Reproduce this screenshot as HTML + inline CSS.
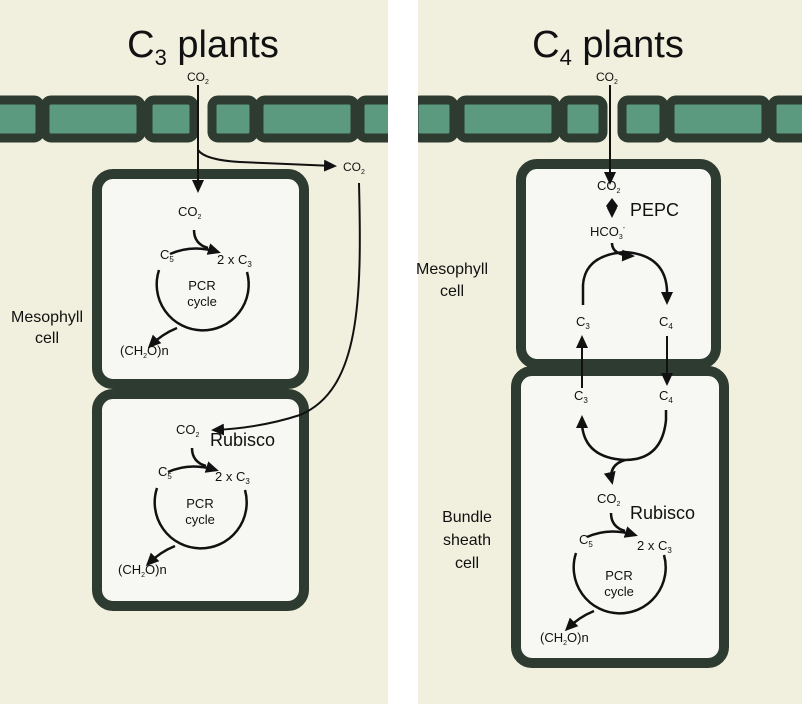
<!DOCTYPE html>
<html><head><style>
html,body{margin:0;padding:0;background:#fff;}
svg{display:block;font-family:"Liberation Sans",sans-serif;}
</style></head><body>
<svg width="802" height="704" viewBox="0 0 802 704" xmlns="http://www.w3.org/2000/svg">
<defs>
<marker id="ah2" markerWidth="14" markerHeight="14" refX="10" refY="7" orient="auto" markerUnits="userSpaceOnUse"><path d="M0,1 L13,7 L0,13 Z" fill="#111"/></marker>
<g id="pcr">
<path d="M-43,-22 A46,46 0 1 0 45,-20" fill="none" stroke="#111" stroke-width="2.5"/>
<path d="M-32,-38 Q-10,-48 16,-40" fill="none" stroke="#111" stroke-width="2.5" marker-end="url(#ah2)"/>
<path d="M-8,-62 Q-8,-48 6,-44" fill="none" stroke="#111" stroke-width="2.5"/>
<path d="M-25,36 Q-40,42 -52,54" fill="none" stroke="#111" stroke-width="2.5" marker-end="url(#ah2)"/>
</g>
</defs>
<rect width="802" height="704" fill="#fff"/>
<rect x="0" y="0" width="388" height="704" fill="#f1f0de"/>
<rect x="418" y="0" width="384" height="704" fill="#f1f0de"/>
<g stroke="#2e3b30" stroke-width="9" fill="#5c9a80">
<rect x="-6" y="100" width="46" height="38" rx="6"/>
<rect x="45" y="100" width="96" height="38" rx="6"/>
<rect x="148" y="100" width="46" height="38" rx="6"/>
<rect x="212" y="100" width="42" height="38" rx="6"/>
<rect x="259" y="100" width="96" height="38" rx="6"/>
<rect x="360" y="100" width="34" height="38" rx="6"/>
<rect x="414" y="100" width="40" height="38" rx="6"/>
<rect x="460" y="100" width="96" height="38" rx="6"/>
<rect x="563" y="100" width="40" height="38" rx="6"/>
<rect x="622" y="100" width="42" height="38" rx="6"/>
<rect x="670" y="100" width="96" height="38" rx="6"/>
<rect x="772" y="100" width="40" height="38" rx="6"/>
</g>
<rect x="388" y="90" width="30" height="56" fill="#fff"/>
<g stroke="#2e3b30" stroke-width="10" fill="#f7f7f3">
<rect x="97" y="174" width="207" height="210" rx="16"/>
<rect x="97" y="394" width="207" height="212" rx="16"/>
<rect x="521" y="164" width="195" height="200" rx="16"/>
<rect x="516" y="371" width="208" height="292" rx="16"/>
</g>
<text x="203" y="57" font-size="38" text-anchor="middle" fill="#111">C<tspan font-size="22" dy="8">3</tspan><tspan dy="-8"> plants</tspan></text>
<text x="608" y="57" font-size="38" text-anchor="middle" fill="#111">C<tspan font-size="22" dy="8">4</tspan><tspan dy="-8"> plants</tspan></text>
<g font-size="12" fill="#111">
<text x="187" y="81">CO<tspan font-size="7" dy="3">2</tspan></text>
<text x="596" y="81">CO<tspan font-size="7" dy="3">2</tspan></text>
</g>
<line x1="198" y1="85" x2="198" y2="190" stroke="#111" stroke-width="2" marker-end="url(#ah2)"/>
<path d="M198,150 Q205,160 240,162 L334,166" fill="none" stroke="#111" stroke-width="2" marker-end="url(#ah2)"/>
<text x="343" y="171" font-size="12" fill="#111">CO<tspan font-size="7" dy="3">2</tspan></text>
<path d="M359,183 C362,300 360,390 300,415 Q260,428 214,430" fill="none" stroke="#111" stroke-width="2" marker-end="url(#ah2)"/>
<use href="#pcr" x="202" y="292"/>
<g font-size="13" fill="#111">
<text x="178" y="216">CO<tspan font-size="7" dy="3">2</tspan></text>
<text x="160" y="259">C<tspan font-size="8" dy="3">5</tspan></text>
<text x="217" y="264">2 x C<tspan font-size="8" dy="3">3</tspan></text>
<text x="202" y="290" text-anchor="middle">PCR</text>
<text x="202" y="306" text-anchor="middle">cycle</text>
<text x="120" y="355">(CH<tspan font-size="7" dy="3">2</tspan><tspan dy="-3">O)n</tspan></text>
</g>
<use href="#pcr" x="200" y="510"/>
<g font-size="13" fill="#111">
<text x="176" y="434">CO<tspan font-size="7" dy="3">2</tspan></text>
<text x="210" y="446" font-size="18">Rubisco</text>
<text x="158" y="476">C<tspan font-size="8" dy="3">5</tspan></text>
<text x="215" y="481">2 x C<tspan font-size="8" dy="3">3</tspan></text>
<text x="200" y="508" text-anchor="middle">PCR</text>
<text x="200" y="524" text-anchor="middle">cycle</text>
<text x="118" y="574">(CH<tspan font-size="7" dy="3">2</tspan><tspan dy="-3">O)n</tspan></text>
</g>
<g font-size="16" fill="#111" text-anchor="middle">
<text x="47" y="322">Mesophyll</text><text x="47" y="343">cell</text>
<text x="452" y="274">Mesophyll</text><text x="452" y="296">cell</text>
<text x="467" y="522">Bundle</text><text x="467" y="545">sheath</text><text x="467" y="568">cell</text>
</g>
<line x1="610" y1="85" x2="610" y2="182" stroke="#111" stroke-width="2" marker-end="url(#ah2)"/>
<g font-size="13" fill="#111">
<text x="597" y="190">CO<tspan font-size="7" dy="3">2</tspan></text>
<text x="630" y="216" font-size="18">PEPC</text>
<text x="590" y="236">HCO<tspan font-size="7" dy="3">3</tspan><tspan font-size="7" dy="-9">-</tspan></text>
<text x="576" y="326">C<tspan font-size="8" dy="3">3</tspan></text>
<text x="659" y="326">C<tspan font-size="8" dy="3">4</tspan></text>
<text x="574" y="400">C<tspan font-size="8" dy="3">3</tspan></text>
<text x="659" y="400">C<tspan font-size="8" dy="3">4</tspan></text>
</g>
<path d="M612,198 L618,206 L612,214 L606,206 Z" fill="#111"/>
<path d="M612,202 L617,208 L612,218 L607,208 Z" fill="#111"/>
<path d="M583,305 L583,285 Q585,255 625,252 Q665,255 667,290 L667,302" fill="none" stroke="#111" stroke-width="2.5" marker-end="url(#ah2)"/>
<path d="M612,243 Q612,255 632,256" fill="none" stroke="#111" stroke-width="2.5" marker-end="url(#ah2)"/>
<line x1="667" y1="336" x2="667" y2="383" stroke="#111" stroke-width="2" marker-end="url(#ah2)"/>
<line x1="582" y1="388" x2="582" y2="338" stroke="#111" stroke-width="2" marker-end="url(#ah2)"/>
<path d="M666,410 L666,420 Q662,460 625,460 Q585,458 582,425 L582,418" fill="none" stroke="#111" stroke-width="2.5" marker-end="url(#ah2)"/>
<path d="M625,460 Q608,465 612,482" fill="none" stroke="#111" stroke-width="2.5" marker-end="url(#ah2)"/>
<use href="#pcr" x="619" y="575"/>
<g font-size="13" fill="#111">
<text x="597" y="503">CO<tspan font-size="7" dy="3">2</tspan></text>
<text x="630" y="519" font-size="18">Rubisco</text>
<text x="579" y="544">C<tspan font-size="8" dy="3">5</tspan></text>
<text x="637" y="550">2 x C<tspan font-size="8" dy="3">3</tspan></text>
<text x="619" y="580" text-anchor="middle">PCR</text>
<text x="619" y="596" text-anchor="middle">cycle</text>
<text x="540" y="642">(CH<tspan font-size="7" dy="3">2</tspan><tspan dy="-3">O)n</tspan></text>
</g>
</svg>
</body></html>
